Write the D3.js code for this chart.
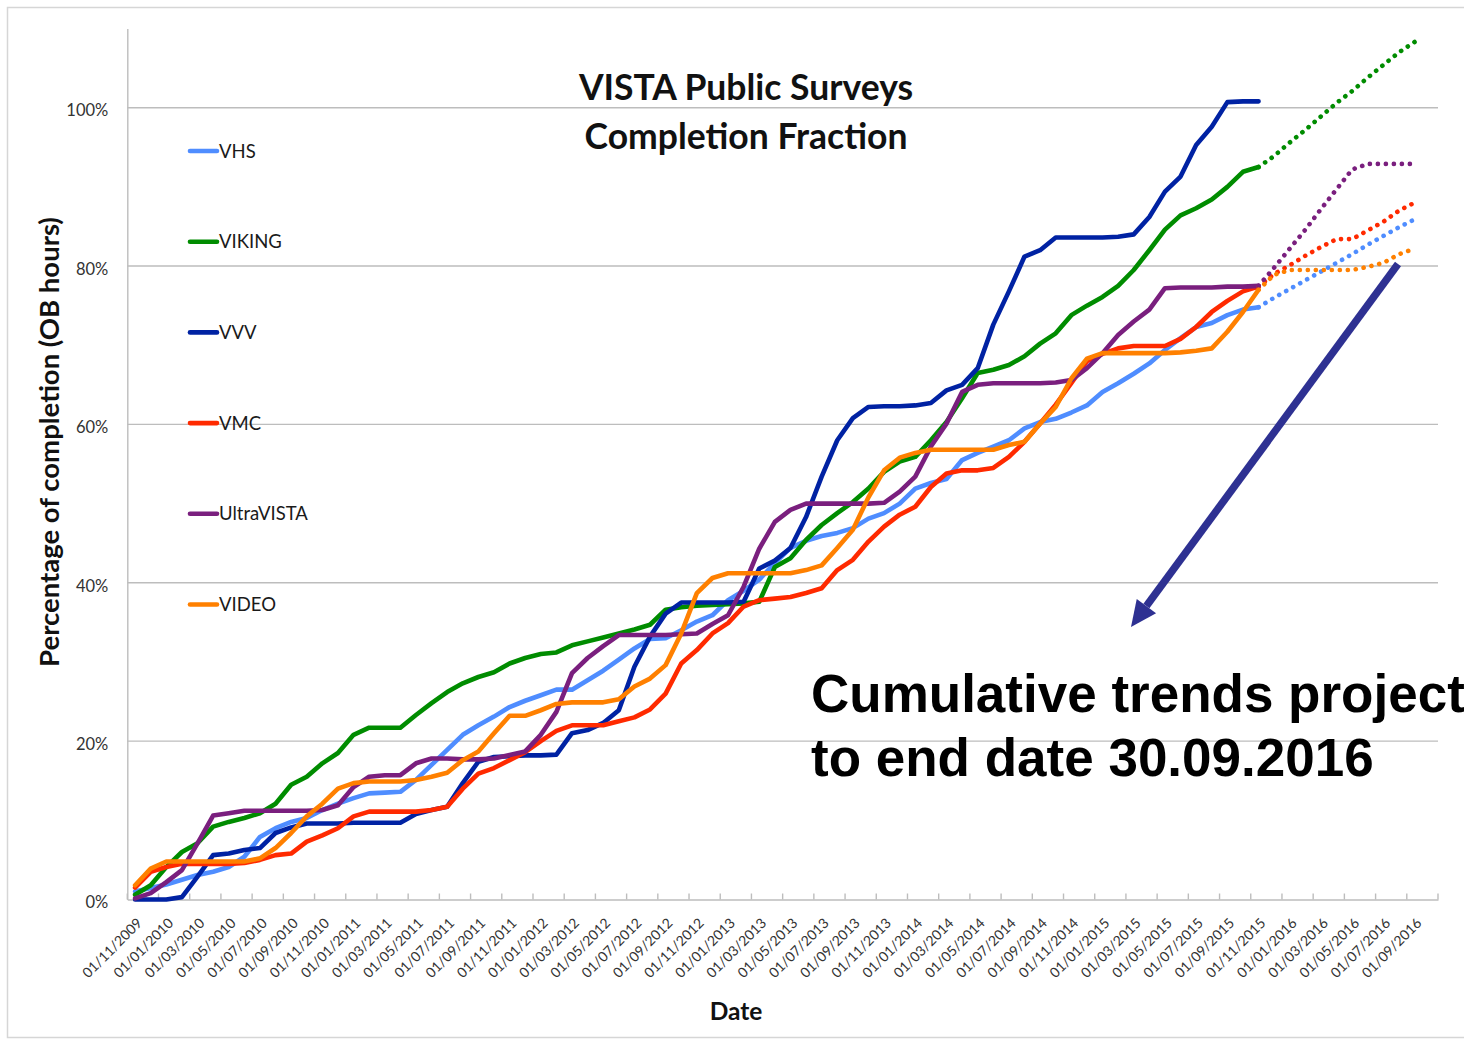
<!DOCTYPE html>
<html>
<head>
<meta charset="utf-8">
<script src="https://cdn.jsdelivr.net/npm/d3@7"></script>
<style>
  body { margin: 0; background: #fff; }
  svg { display: block; }
</style>
</head>
<body>
<svg id="chart" width="1464" height="1041"></svg>
<script>
// one axis slot per month, 01/11/2009 .. 01/10/2016
const months = d3.timeMonth.range(new Date(2009, 10, 1), new Date(2016, 10, 1));

const seriesNames = ['VHS', 'VIKING', 'VVV', 'VMC', 'UltraVISTA', 'VIDEO'];
const seriesColors = ['#4F8DFF', '#008C00', '#0022A3', '#FF2A00', '#7A1F7E', '#FF8000'];

// cumulative completion (%), monthly from 01/11/2009 to 01/11/2015
const vhs = [1.0, 1.45, 1.9, 2.5, 3.1, 3.5, 4.1, 5.4, 7.9, 9.0,
  9.8, 10.3, 11.3, 12.1, 12.8, 13.4, 13.5, 13.6, 15.1, 17.0,
  18.9, 20.8, 22.0, 23.1, 24.3, 25.1, 25.8, 26.5, 26.5, 27.7,
  28.9, 30.3, 31.7, 32.9, 33.0, 34.0, 35.1, 35.9, 37.8, 39.0,
  40.4, 42.5, 44.4, 45.3, 45.9, 46.3, 46.9, 48.1, 48.8, 50.0,
  51.9, 52.6, 53.1, 55.5, 56.4, 57.2, 58.0, 59.5, 60.3, 60.7,
  61.5, 62.4, 64.1, 65.2, 66.4, 67.7, 69.4, 70.9, 72.3, 72.8,
  73.8, 74.5, 74.8];
const viking = [0.6, 1.8, 4.1, 6.0, 7.1, 9.2, 9.8, 10.3, 10.9, 12.1,
  14.5, 15.5, 17.2, 18.5, 20.8, 21.7, 21.7, 21.7, 23.3, 24.8,
  26.2, 27.3, 28.1, 28.7, 29.8, 30.5, 31.0, 31.2, 32.1, 32.6,
  33.1, 33.6, 34.1, 34.7, 36.6, 36.9, 37.1, 37.2, 37.3, 37.4,
  37.6, 42.0, 43.1, 45.4, 47.3, 48.8, 50.2, 51.9, 54.0, 55.3,
  55.9, 58.0, 60.3, 63.3, 66.5, 66.9, 67.5, 68.6, 70.2, 71.5,
  73.8, 75.0, 76.1, 77.5, 79.5, 82.0, 84.6, 86.4, 87.3, 88.4,
  90.0, 91.9, 92.5];
const vvv = [0, 0, 0, 0.3, 2.9, 5.6, 5.8, 6.25, 6.5, 8.4,
  9.1, 9.6, 9.6, 9.6, 9.7, 9.7, 9.7, 9.7, 10.8, 11.3,
  11.7, 14.7, 17.4, 18.0, 18.1, 18.2, 18.2, 18.3, 21.0, 21.4,
  22.3, 23.9, 29.4, 33.2, 36.1, 37.5, 37.5, 37.5, 37.5, 37.6,
  41.8, 42.8, 44.4, 48.3, 53.4, 58.0, 60.8, 62.2, 62.3, 62.3,
  62.4, 62.7, 64.3, 65.0, 67.1, 72.6, 76.8, 81.2, 82.0, 83.6,
  83.6, 83.6, 83.6, 83.7, 84.0, 86.2, 89.4, 91.3, 95.3, 97.6,
  100.7, 100.8, 100.8];
const vmc = [1.5, 3.5, 4.1, 4.5, 4.5, 4.5, 4.5, 4.6, 5.0, 5.6,
  5.8, 7.3, 8.1, 9.0, 10.5, 11.1, 11.1, 11.1, 11.1, 11.3,
  11.7, 14.0, 15.9, 16.6, 17.6, 18.6, 20.0, 21.3, 22.0, 22.0,
  22.0, 22.5, 23.0, 24.0, 26.0, 29.8, 31.5, 33.6, 34.9, 37.0,
  37.8, 38.0, 38.2, 38.7, 39.3, 41.6, 42.9, 45.2, 47.1, 48.6,
  49.6, 52.1, 53.8, 54.2, 54.2, 54.5, 55.9, 57.8, 60.1, 62.5,
  65.2, 68.0, 68.9, 69.6, 69.9, 69.9, 69.9, 70.8, 72.3, 74.2,
  75.6, 76.8, 77.4];
const ultravista = [0.15, 0.8, 2.2, 3.7, 7.1, 10.6, 10.9, 11.2, 11.2, 11.2,
  11.2, 11.2, 11.3, 11.9, 14.2, 15.5, 15.7, 15.7, 17.2, 17.8,
  17.8, 17.7, 17.7, 17.8, 18.25, 18.7, 20.8, 23.7, 28.6, 30.5,
  32.0, 33.4, 33.4, 33.4, 33.4, 33.5, 33.6, 34.8, 35.9, 39.5,
  44.3, 47.7, 49.2, 50.0, 50.0, 50.0, 50.0, 50.0, 50.1, 51.5,
  53.4, 57.2, 60.1, 64.1, 65.0, 65.2, 65.2, 65.2, 65.2, 65.3,
  65.6, 67.1, 69.0, 71.3, 73.0, 74.5, 77.2, 77.3, 77.3, 77.3,
  77.4, 77.4, 77.5];
const video = [1.8, 3.9, 4.8, 4.8, 4.8, 4.8, 4.8, 4.8, 5.2, 6.5,
  8.4, 10.5, 12.1, 14.0, 14.7, 14.9, 14.9, 14.9, 15.1, 15.5,
  16.0, 17.6, 18.7, 21.0, 23.2, 23.2, 23.9, 24.7, 24.9, 24.9,
  24.9, 25.3, 26.9, 27.9, 29.6, 33.6, 38.7, 40.6, 41.2, 41.2,
  41.2, 41.2, 41.2, 41.6, 42.2, 44.4, 46.7, 50.8, 54.2, 55.8,
  56.4, 56.8, 56.8, 56.8, 56.8, 56.8, 57.4, 57.8, 60.1, 62.2,
  65.8, 68.3, 69.0, 69.0, 69.0, 69.0, 69.0, 69.1, 69.3, 69.6,
  71.7, 74.2, 77.0];

// projected trend (%), monthly from 01/11/2015 to 01/09/2016
const projStart = 72;
const vhsProj = [74.8, 76.0, 77.1, 78.2, 79.3, 80.4, 81.5, 82.7, 83.8, 84.9, 85.9];
const vikingProj = [92.5, 93.9, 95.6, 97.2, 98.9, 100.6, 102.1, 103.8, 105.4, 107.0, 108.3];
const vmcProj = [77.4, 79.0, 80.1, 81.3, 82.4, 83.4, 83.4, 84.5, 85.6, 87.0, 88.0];
const ultravistaProj = [77.5, 79.8, 82.2, 84.6, 87.2, 89.7, 92.2, 92.9, 92.9, 92.9, 92.9];
const videoProj = [77.0, 78.9, 79.5, 79.5, 79.5, 79.5, 79.5, 79.9, 80.4, 81.5, 82.2];

const yTicks = [0, 20, 40, 60, 80, 100];

const actual = [vhs, viking, vvv, vmc, ultravista, video];
const projected = [vhsProj, vikingProj, null, vmcProj, ultravistaProj, videoProj];

const svg = d3.select('#chart');
const plot = {left: 127.3, right: 1438, top: 28.5, bottom: 899.5};

// frame around the whole picture
svg.append('rect')
  .attr('x', 7.5).attr('y', 7.5)
  .attr('width', 1480).attr('height', 1030)
  .attr('fill', 'none')
  .attr('stroke', '#d6d6d6')
  .attr('stroke-width', 1.5);

const x = d3.scaleBand()
  .domain(months)
  .range([plot.left, plot.right])
  .padding(0);
const xMid = d => x(d) + x.bandwidth() / 2;

const y = d3.scaleLinear()
  .domain([0, 110])
  .range([plot.bottom, plot.top]);

// gridlines
svg.append('g')
  .selectAll('line')
  .data(yTicks.filter(d => d > 0))
  .join('line')
    .attr('x1', plot.left).attr('x2', plot.right)
    .attr('y1', d => y(d)).attr('y2', d => y(d))
    .attr('stroke', '#bdbdbd')
    .attr('stroke-width', 1.4);

// y axis
const yAxis = svg.append('g')
  .attr('transform', `translate(${plot.left},0)`)
  .call(d3.axisLeft(y).tickValues(yTicks).tickSize(0).tickPadding(19)
    .tickFormat(d => d + '%'));
yAxis.select('.domain')
  .attr('stroke', '#bdbdbd').attr('stroke-width', 1.4);
yAxis.selectAll('text')
  .attr('dy', '0.5em')
  .attr('font-family', 'Lato, sans-serif')
  .attr('font-size', 16.5)
  .attr('fill', '#333');

// x axis: labels centred on every second month, ticks on the slot boundaries
const labelMonths = months.filter((d, i) => i % 2 === 0);
const xAxis = svg.append('g')
  .attr('transform', `translate(0,${plot.bottom})`)
  .call(d3.axisBottom(x).tickValues(labelMonths).tickSize(0)
    .tickFormat(d3.timeFormat('%d/%m/%Y')));
xAxis.select('.domain')
  .attr('stroke', '#bdbdbd').attr('stroke-width', 1.6);
xAxis.selectAll('text')
  .attr('y', 0)
  .attr('dy', '0.35em')
  .attr('text-anchor', 'end')
  .attr('transform', 'translate(4.5,21) rotate(-45)')
  .attr('font-family', 'Lato, sans-serif')
  .attr('font-size', 14)
  .attr('fill', '#333');

const tickPos = labelMonths.map(d => x(d)).concat([plot.right]);
svg.append('g')
  .selectAll('line')
  .data(tickPos)
  .join('line')
    .attr('x1', d => d).attr('x2', d => d)
    .attr('y1', plot.bottom).attr('y2', plot.bottom - 6)
    .attr('stroke', '#bdbdbd')
    .attr('stroke-width', 1.4);

// series
const line = d3.line()
  .x(d => xMid(d.date))
  .y(d => y(d.value));

const lines = svg.append('g')
  .attr('fill', 'none')
  .attr('stroke-width', 4.6)
  .attr('stroke-linejoin', 'round')
  .attr('stroke-linecap', 'round');

actual.forEach((vals, i) => {
  const pts = vals.map((v, j) => ({date: months[j], value: v}));
  lines.append('path')
    .attr('d', line(pts))
    .attr('stroke', seriesColors[i]);
});

projected.forEach((vals, i) => {
  if (!vals) return;
  const pts = vals.map((v, j) => ({date: months[projStart + j], value: v}));
  lines.append('path')
    .attr('d', line(pts))
    .attr('stroke', seriesColors[i])
    .attr('stroke-dasharray', '0.1 7.9');
});

// legend
const legend = svg.append('g')
  .selectAll('g')
  .data(seriesNames)
  .join('g')
    .attr('transform', (d, i) => `translate(188,${151 + i * 90.7})`);
legend.append('line')
  .attr('x1', 2).attr('x2', 29)
  .attr('stroke', (d, i) => seriesColors[i])
  .attr('stroke-width', 4.6)
  .attr('stroke-linecap', 'round');
legend.append('text')
  .attr('x', 31)
  .attr('dy', '0.36em')
  .attr('font-family', 'Lato, sans-serif')
  .attr('font-size', 18.5)
  .attr('fill', '#1a1a1a')
  .text(d => d);

// titles
const title = svg.append('text')
  .attr('x', 746)
  .attr('text-anchor', 'middle')
  .attr('font-family', 'Lato, sans-serif')
  .attr('font-weight', 'bold')
  .attr('font-size', 35.5)
  .attr('fill', '#111');
title.append('tspan').attr('x', 746).attr('y', 100).text('VISTA Public Surveys');
title.append('tspan').attr('x', 746).attr('y', 149).text('Completion Fraction');

svg.append('text')
  .attr('transform', 'translate(59,442) rotate(-90)')
  .attr('text-anchor', 'middle')
  .attr('font-family', 'Lato, sans-serif')
  .attr('font-weight', 'bold')
  .attr('font-size', 27.5)
  .attr('fill', '#111')
  .text('Percentage of completion (OB hours)');

svg.append('text')
  .attr('x', 736).attr('y', 1020)
  .attr('text-anchor', 'middle')
  .attr('font-family', 'Lato, sans-serif')
  .attr('font-weight', 'bold')
  .attr('font-size', 24.5)
  .attr('fill', '#111')
  .text('Date');

// annotation (runs off the right edge, as in the original slide)
const note = svg.append('text')
  .attr('font-family', '"Liberation Sans", Arial, sans-serif')
  .attr('font-weight', 'bold')
  .attr('font-size', 53)
  .attr('fill', '#000');
note.append('tspan').attr('x', 811).attr('y', 712).text('Cumulative trends projected');
note.append('tspan').attr('x', 811).attr('y', 776).text('to end date 30.09.2016');

const arrowFrom = [1398, 264], arrowTo = [1131, 627];
const dx = arrowTo[0] - arrowFrom[0], dy = arrowTo[1] - arrowFrom[1];
const len = Math.hypot(dx, dy);
const u = [dx / len, dy / len], n = [-u[1], u[0]];
const headL = 26, headW = 12;
const base = [arrowTo[0] - u[0] * headL, arrowTo[1] - u[1] * headL];
svg.append('line')
  .attr('x1', arrowFrom[0]).attr('y1', arrowFrom[1])
  .attr('x2', base[0]).attr('y2', base[1])
  .attr('stroke', '#2E3192')
  .attr('stroke-width', 7.5);
svg.append('polygon')
  .attr('points', [
    arrowTo,
    [base[0] + n[0] * headW, base[1] + n[1] * headW],
    [base[0] - n[0] * headW, base[1] - n[1] * headW]
  ].map(p => p.join(',')).join(' '))
  .attr('fill', '#2E3192');
</script>
</body>
</html>
